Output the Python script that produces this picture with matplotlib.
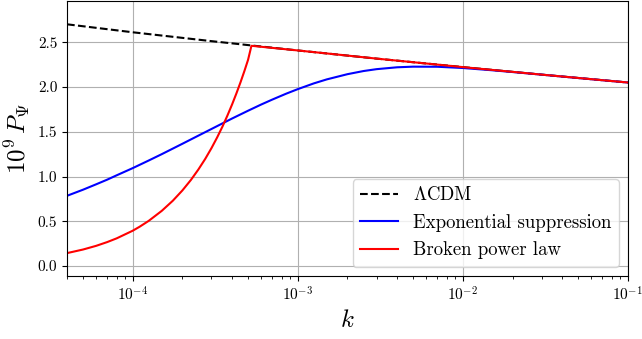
import matplotlib
matplotlib.use("Agg")
import matplotlib.pyplot as plt

plt.rcParams['font.family'] = 'serif'
plt.rcParams['font.serif'] = ['cmr10']
plt.rcParams['mathtext.fontset'] = 'cm'
plt.rcParams['axes.formatter.use_mathtext'] = True
plt.rcParams['axes.unicode_minus'] = False

# LCDM reference spectrum
k_lcdm = [4e-5, 1e-4, 3e-4, 1e-3, 3e-3, 1e-2, 3e-2, 1e-1]
p_lcdm = [2.700, 2.611, 2.512, 2.408, 2.317, 2.222, 2.138, 2.050]

# Exponential suppression
k_exp = [4e-5, 5e-5, 6e-5, 7e-5, 8e-5, 1e-4, 1.25e-4, 1.5e-4, 2e-4, 2.5e-4, 3e-4, 4e-4,
         5e-4, 6e-4, 7e-4, 8.5e-4, 1e-3, 1.25e-3, 1.5e-3, 2e-3, 2.5e-3, 3e-3, 4e-3,
         5e-3, 7e-3, 1e-2, 1.5e-2, 2e-2, 3e-2, 5e-2, 1e-1]
p_exp = [0.785, 0.853, 0.913, 0.965, 1.014, 1.094, 1.179, 1.250, 1.366, 1.457, 1.531, 1.648,
         1.735, 1.804, 1.859, 1.925, 1.976, 2.040, 2.085, 2.143, 2.178, 2.199, 2.220,
         2.227, 2.226, 2.212, 2.187, 2.167, 2.138, 2.100, 2.050]

# Broken power law
k_bpl = [4e-5, 5e-5, 6e-5, 7e-5, 8e-5, 1e-4, 1.1e-4, 1.25e-4, 1.5e-4, 1.75e-4, 2e-4, 2.25e-4,
         2.5e-4, 2.75e-4, 3e-4, 3.25e-4, 3.5e-4, 3.75e-4, 4e-4, 4.25e-4, 4.5e-4, 4.75e-4,
         5e-4, 5.24e-4, 1e-3, 3e-3, 1e-2, 3e-2, 1e-1]
p_bpl = [0.145, 0.185, 0.226, 0.268, 0.310, 0.395, 0.439, 0.505, 0.617, 0.730, 0.845, 0.961,
         1.079, 1.197, 1.317, 1.438, 1.559, 1.682, 1.805, 1.929, 2.053, 2.178,
         2.304, 2.460, 2.408, 2.317, 2.222, 2.138, 2.050]

labels = [r'$\Lambda$CDM', 'Exponential suppression', 'Broken power law']

fig = plt.figure(figsize=(6.42, 3.39), dpi=100)
ax = fig.add_subplot(111)
fig.subplots_adjust(left=0.1044, right=0.978, top=0.997, bottom=0.186)

ax.plot(k_lcdm, p_lcdm, 'k--', lw=1.5, label=labels[0])
ax.plot(k_exp, p_exp, color='blue', lw=1.5, label=labels[1])
ax.plot(k_bpl, p_bpl, color='red', lw=1.5, label=labels[2])

ax.set_xscale('log')
ax.set_xlim(4e-5, 1e-1)
ax.set_ylim(-0.11, 2.96)
ax.set_yticks([0.0, 0.5, 1.0, 1.5, 2.0, 2.5])
ax.set_yticklabels(['0.0', '0.5', '1.0', '1.5', '2.0', '2.5'])
ax.grid(True, which='major', color='#b0b0b0', lw=0.8)
ax.tick_params(labelsize=11)

ax.set_xlabel(r'$k$', fontsize=18)
ax.set_ylabel(r'$10^9\,P_\Psi$', fontsize=18)

ax.legend(loc='lower right', fontsize=13.5)

fig.savefig('out.png', dpi=100)
